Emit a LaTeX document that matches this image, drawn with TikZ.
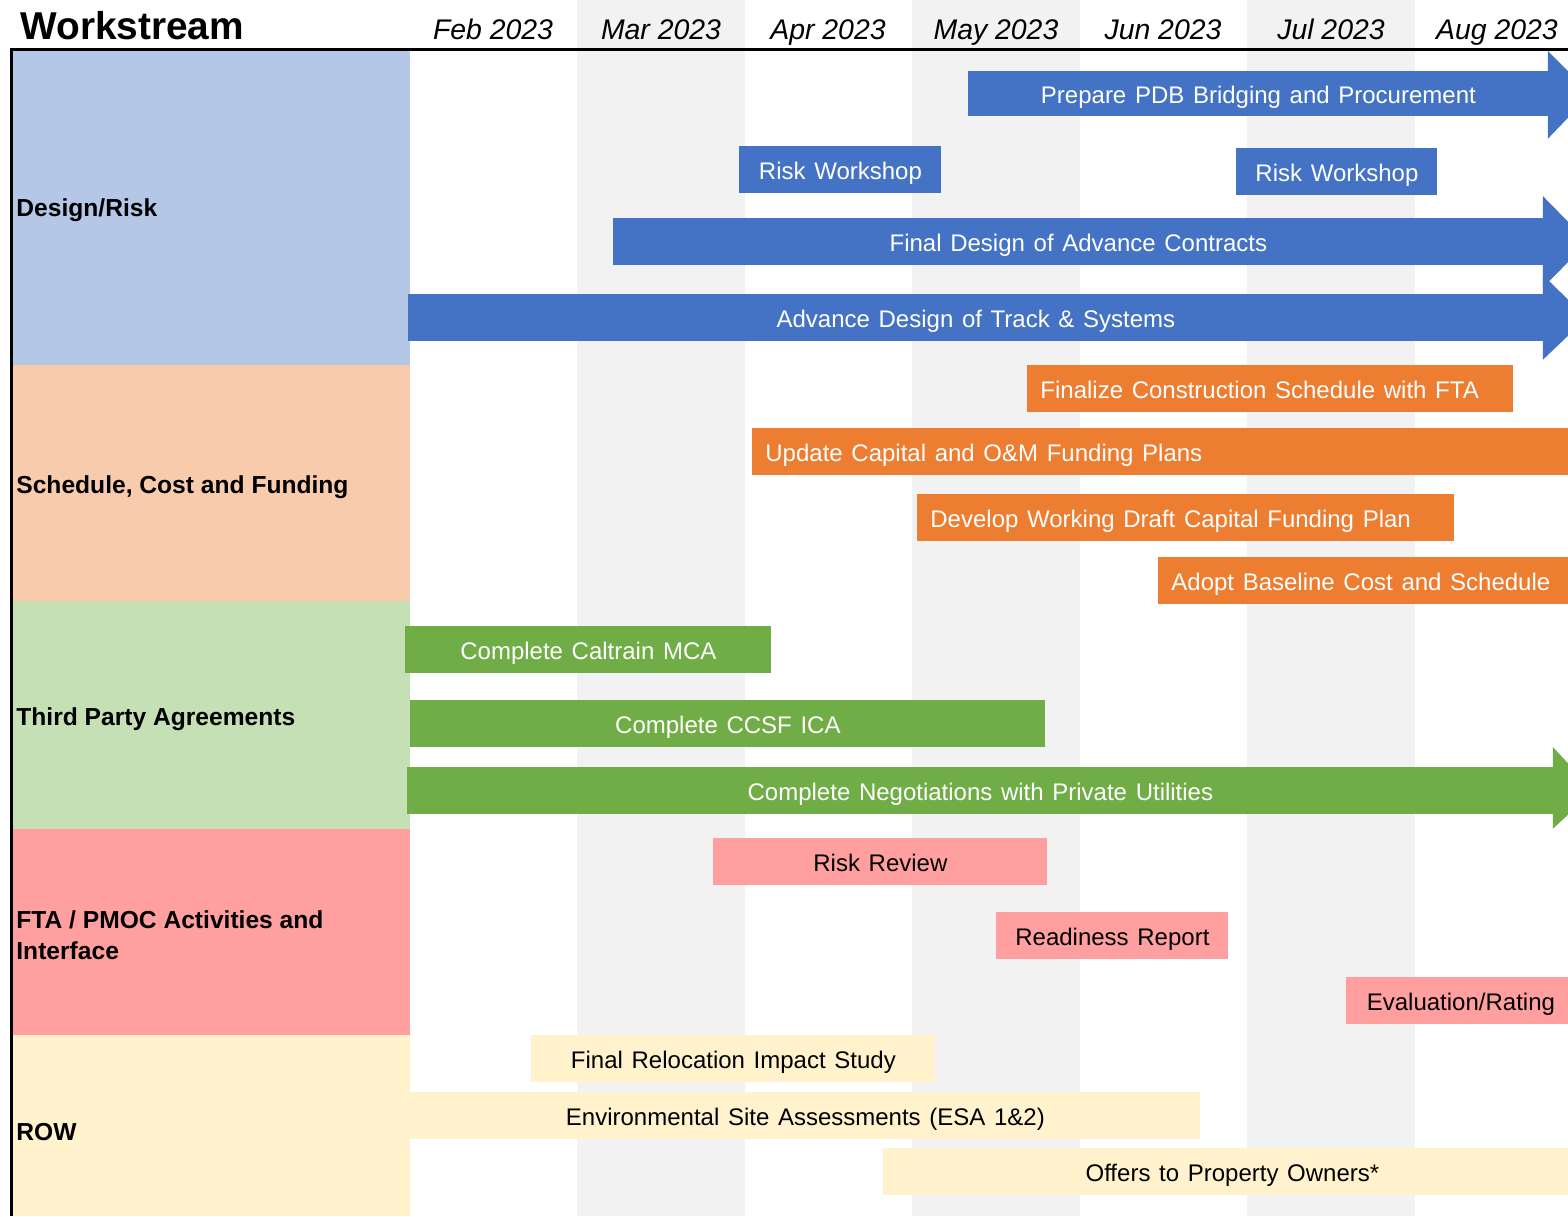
\documentclass[tikz,border=0pt]{standalone}
\usepackage{fontspec}
\setmainfont{Liberation Sans}
\usetikzlibrary{calc}
\definecolor{blueC}{HTML}{4472C4}
\definecolor{orangeC}{HTML}{ED7D31}
\definecolor{greenC}{HTML}{70AD47}
\definecolor{pinkC}{HTML}{FF9F9F}
\definecolor{yellowC}{HTML}{FFF2CC}
\definecolor{lblueC}{HTML}{B4C7E7}
\definecolor{lorangeC}{HTML}{F8CBAD}
\definecolor{lgreenC}{HTML}{C5E0B4}
\definecolor{stripeC}{HTML}{F2F2F2}
\newcommand{\widerspaces}{\spaceskip=1.3\fontdimen2\font\relax}
\tikzset{
  task/.style={inner sep=0pt, minimum height=23.5pt, anchor=north west, text height=11pt, text depth=1pt, font=\fontsize{12}{14}\selectfont, execute at begin node=\widerspaces},
  bluebar/.style={task, fill=blueC, text=white},
  orangebar/.style={task, fill=orangeC, text=white, align=left, inner xsep=6.5pt},
  greenbar/.style={task, fill=greenC, text=white},
  pinkbar/.style={task, fill=pinkC, text=black},
  rowbar/.style={task, fill=yellowC, text=black},
  month/.style={anchor=base, inner sep=0pt, font=\fontsize{14.2}{16}\selectfont\itshape},
  wslabel/.style={anchor=west, inner xsep=0pt, align=left, font=\fontsize{12.3}{15.5}\selectfont\bfseries},
}
\begin{document}
\begin{tikzpicture}[x=0.5pt,y=-0.5pt]
\useasboundingbox (0,0) rectangle (1568,1216);
\clip (0,0) rectangle (1568,1216);
% month stripes
\fill[stripeC] (577,0) rectangle (745,1216);
\fill[stripeC] (912,0) rectangle (1080,1216);
\fill[stripeC] (1247,0) rectangle (1415,1216);
% workstream column
\fill[lblueC] (12,50) rectangle (410,365);
\fill[lorangeC] (12,365) rectangle (410,601);
\fill[lgreenC] (12,601) rectangle (410,829);
\fill[pinkC] (12,829) rectangle (410,1035);
\fill[yellowC] (12,1035) rectangle (410,1216);
% header
\node[anchor=base west, inner sep=0pt, font=\fontsize{19.4}{22}\selectfont\bfseries] (title) at (20,39.5) {Workstream};
\node[month] (m2) at (493,39.5) {Feb 2023};
\node[month] (m3) at (661,39.5) {Mar 2023};
\node[month] (m4) at (828,39.5) {Apr 2023};
\node[month] (m5) at (996,39.5) {May 2023};
\node[month] (m6) at (1163,39.5) {Jun 2023};
\node[month] (m7) at (1331,39.5) {Jul 2023};
\node[month] (m8) at (1497,39.5) {Aug 2023};
\draw[line width=1.5pt] (10,49.5) -- (1568,49.5);
\draw[line width=1.5pt] (11,49) -- (11,1216);
% workstream labels
\node[wslabel] (l1) at (16,210) {Design/Risk};
\node[wslabel] (l2) at (16,487) {Schedule, Cost and Funding};
\node[wslabel] (l3) at (16,719) {Third Party Agreements};
\node[wslabel] (l4) at (16,935) {FTA / PMOC Activities and\\Interface};
\node[wslabel] (l5) at (16,1132) {ROW};
% Design/Risk
\node[bluebar, minimum width=290pt, minimum height=22.5pt] (b1) at (968,71) {Prepare PDB Bridging and Procurement};
\fill[blueC] ($(b1.north east)+(-1,-20)$) -- ($(b1.east)+(42,0)$) -- ($(b1.south east)+(-1,22)$) -- cycle;
\node[bluebar, minimum width=101pt] (b2) at (739,146) {Risk Workshop};
\node[bluebar, minimum width=100.5pt] (b3) at (1236,148) {Risk Workshop};
\node[bluebar, minimum width=465pt] (b4) at (613,218) {Final Design of Advance Contracts};
\fill[blueC] ($(b4.north east)+(-1,-22)$) -- ($(b4.east)+(44,0)$) -- ($(b4.south east)+(-1,22)$) -- cycle;
\node[bluebar, minimum width=567.5pt] (b5) at (408,294) {Advance Design of Track \& Systems};
\fill[blueC] ($(b5.north east)+(-1,-19)$) -- ($(b5.east)+(43,0)$) -- ($(b5.south east)+(-1,18)$) -- cycle;
% Schedule
\node[orangebar, text width=230pt] (o1) at (1027,365) {Finalize Construction Schedule with FTA};
\node[orangebar, text width=401pt] (o2) at (752,428) {Update Capital and O\&M Funding Plans};
\node[orangebar, text width=255.5pt] (o3) at (917,494) {Develop Working Draft Capital Funding Plan};
\node[orangebar, text width=198pt] (o4) at (1158,557) {Adopt Baseline Cost and Schedule};
% Third party
\node[greenbar, minimum width=183pt] (g1) at (405,626) {Complete Caltrain MCA};
\node[greenbar, minimum width=317.5pt] (g2) at (410,700) {Complete CCSF ICA};
\node[greenbar, minimum width=573pt] (g3) at (407,767) {Complete Negotiations with Private Utilities};
\fill[greenC] ($(g3.north east)+(-1,-20)$) -- ($(g3.east)+(40,0)$) -- ($(g3.south east)+(-1,14)$) -- cycle;
% FTA
\node[pinkbar, minimum width=167pt] (p1) at (713,838) {Risk Review};
\node[pinkbar, minimum width=116pt] (p2) at (996,912) {Readiness Report};
\node[pinkbar, minimum width=114.5pt] (p3) at (1346,977) {Evaluation/Rating};
% ROW
\node[rowbar, minimum width=202pt] (r1) at (531,1035) {Final Relocation Impact Study};
\node[rowbar, minimum width=395pt] (r2) at (410,1092) {Environmental Site Assessments (ESA 1\&2)};
\node[rowbar, minimum width=349pt] (r3) at (883,1148) {Offers to Property Owners*};
\end{tikzpicture}
\end{document}
